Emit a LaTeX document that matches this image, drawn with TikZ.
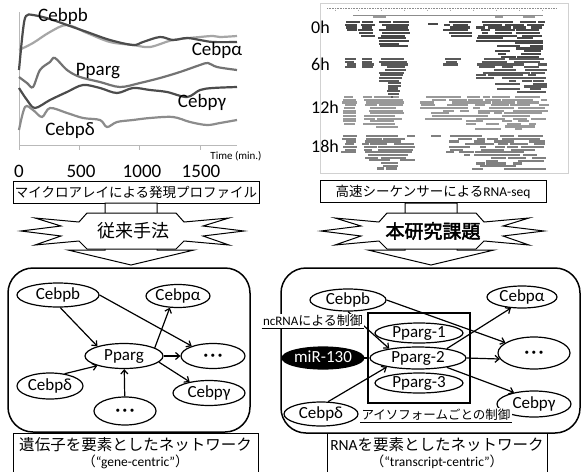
\documentclass[tikz,border=0pt]{standalone}
\usepackage{fontspec}
\setmainfont{Carlito}
\newfontfamily\jp{Noto Sans CJK JP}
\newfontfamily\jpbold[FakeBold=2.5]{Noto Sans CJK JP}
\usetikzlibrary{arrows.meta,shapes.geometric}
\newcommand\readrows[6]{%
  \foreach \r in {1,...,#4}{%
    \foreach \k in {1,...,#6}{%
      \pgfmathsetmacro\wd{6+9*rnd}%
      \pgfmathsetmacro\xa{#1+(#2-#1-\wd)*rnd}%
      \fill[#5] (\xa,#3+\r*2.7-2.7) rectangle ++(\wd,2.1);
    }}}
\newcommand\dotsthree{\textbf{·\hspace{2.5pt}·\hspace{2.5pt}·}}
\begin{document}
\begin{tikzpicture}[x=1pt,y=-1pt,
  ell/.style={draw,ellipse,line width=1.2pt,fill=white,inner sep=0pt,
    font=\fontsize{17}{18}\selectfont,text height=11pt,text depth=3pt},
  arr/.style={line width=1.2pt,-{Straight Barb[length=4pt,width=7pt]}},
  curve/.style={line width=2.2pt,smooth,tension=0.55},
  chartlbl/.style={font=\fontsize{19}{21}\selectfont,inner sep=0pt},
  tick/.style={font=\fontsize{19}{21}\selectfont,inner sep=0pt},
  hour/.style={font=\fontsize{18}{20}\selectfont,inner sep=0pt,anchor=west},
  capbox/.style={draw,line width=1pt,minimum height=22pt,inner sep=0pt,
    font=\fontsize{13.5}{15}\selectfont},
  netbox/.style={line width=1.5pt,rounded corners=25pt},
  burst/.style={line width=1pt,fill=white},
  bigtxt/.style={font=\fontsize{15.5}{17}\selectfont,inner sep=0pt},
  smalltxt/.style={font=\fontsize{13.5}{15}\selectfont,inner sep=0pt},
  ulabel/.style={fill=white,inner sep=1.2pt,font=\fontsize{13}{15}\selectfont}]
\useasboundingbox (0,0) rectangle (583,471);
\fill[white] (0,0) rectangle (583,471);

% ---------------- chart ----------------
\draw[gray!55,line width=0.8pt] (19,12) -- (19,145) -- (237,145);
\foreach \tx in {19,79,139,200} \draw[gray!55,line width=0.8pt] (\tx,145) -- (\tx,150);
\node[tick] (t0) at (19,171) {0};
\node[tick] (t500) at (81,171) {500};
\node[tick] (t1000) at (142,171) {1000};
\node[tick] (t1500) at (201,171) {1500};
\node[font=\fontsize{11}{12}\selectfont,inner sep=0pt] (tlab) at (236,156) {Time (min.)};

\draw[curve,color=black!35] plot coordinates {(19,50) (33,43) (50,32) (67,25) (87,33) (110,42) (133,45) (150,47) (173,40) (200,37) (213,36) (220,37) (237,36)};
\draw[curve,color=black!70] plot coordinates {(19,70) (23,30) (26,16) (33,15) (50,19) (67,25) (87,32) (110,40) (133,45) (143,42) (160,37) (173,40) (187,38) (200,40) (213,42) (237,42)};
\draw[curve,color=black!55] plot coordinates {(19,77) (27,83) (33,87) (40,70) (50,62) (55,58) (67,70) (80,77) (100,82) (120,87) (140,83) (160,78) (180,72) (200,65) (208,63) (217,67) (237,70)};
\draw[curve,color=black!70] plot coordinates {(19,88) (27,100) (35,108) (50,100) (67,92) (83,85) (100,88) (117,93) (133,88) (150,90) (167,92) (187,97) (200,90) (213,88) (237,87)};
\draw[curve,color=black!45] plot coordinates {(19,130) (25,107) (33,110) (42,117) (50,108) (67,113) (83,118) (100,120) (107,127) (117,122) (133,120) (150,118) (173,117) (190,122) (207,125) (220,123) (237,120)};

\node[chartlbl] (cl1) at (63,16) {Cebpb};
\node[chartlbl] (cl2) at (217,50) {Cebpα};
\node[chartlbl] (cl3) at (98,71) {Pparg};
\node[chartlbl] (cl4) at (202,102) {Cebpγ};
\node[chartlbl] (cl5) at (70,130) {Cebpδ};

% ---------------- RNA-seq picture ----------------
\draw[black!18,line width=0.8pt] (320,3) rectangle (568,173);
\draw[black!45,line width=0.6pt,densely dotted] (327,8) -- (557,8);
\foreach \tx in {335,358,381,404,427,450,473,496,519,542} \draw[black!35,line width=0.4pt] (\tx,9.5) -- (\tx,11);
\draw[black!45,line width=0.6pt] (353,15) -- (543,15);
\fill[black!40] (373,16) rectangle (386,17.5);
\fill[black!40] (495,16) rectangle (503,17.5);
\fill[black!40] (523,16) rectangle (535,17.5);
\pgfmathsetseed{7}
% 0h
\readrows{347}{357}{21}{4}{black!72}{2}
\readrows{362}{372}{21}{6}{black!72}{2}
\readrows{378}{410}{21}{10}{black!72}{5}
\readrows{428}{437}{23}{1}{black!72}{1}
\readrows{443}{473}{21}{6}{black!72}{4}
\readrows{475}{545}{21}{8}{black!72}{9}
\readrows{492}{545}{42}{6}{black!72}{5}
% 6h
\readrows{345}{357}{58}{4}{black!65}{2}
\readrows{362}{373}{58}{4}{black!65}{2}
\readrows{378}{408}{58}{9}{black!65}{5}
\readrows{388}{400}{82}{6}{black!65}{2}
\readrows{443}{463}{58}{3}{black!65}{3}
\readrows{475}{547}{58}{8}{black!65}{9}
\readrows{495}{547}{80}{5}{black!65}{5}
% 12h
\readrows{343}{356}{96}{11}{black!40}{2}
\readrows{363}{405}{96}{12}{black!40}{6}
\readrows{420}{550}{96}{9}{black!40}{14}
\readrows{460}{545}{120}{4}{black!40}{5}
% 18h
\readrows{345}{356}{135}{7}{black!50}{2}
\readrows{362}{415}{135}{10}{black!50}{8}
\readrows{370}{400}{162}{3}{black!50}{3}
\readrows{428}{442}{135}{1}{black!50}{1}
\readrows{443}{547}{135}{8}{black!50}{11}
\readrows{470}{547}{157}{5}{black!50}{6}
\node[hour] (h0) at (311,27) {0h};
\node[hour] (h6) at (311,64) {6h};
\node[hour] (h12) at (311,107) {12h};
\node[hour] (h18) at (311,146) {18h};

% ---------------- caption boxes ----------------
\node[capbox,minimum width=246pt] (capL) at (136,192) {\jp マイクロアレイによる発現プロファイル};
\node[capbox,minimum width=226pt] (capR) at (433,191.5) {{\jp 高速シーケンサーによる}RNA-seq};

% ---------------- burst arrows ----------------
\foreach \sx in {0,300}{
\begin{scope}[shift={(\sx,0)}]
\draw[burst] (105,203) -- (157,203) -- (157,250) -- (194,250) -- (131,265) -- (68,250) -- (105,250) -- cycle;
\draw[burst] (79,222) -- (87,213) -- (176,213) -- (184,222) -- (229,218) -- (203,226) -- (244,231) -- (203,236) -- (229,245) -- (184,241) -- (176,249) -- (87,249) -- (79,241) -- (35,245) -- (61,236) -- (21,231) -- (61,226) -- (35,218) -- cycle;
\end{scope}}
\node[inner sep=0pt,font=\fontsize{18}{20}\selectfont] (bL) at (133,231) {\jp 従来手法};
\node[inner sep=0pt,font=\fontsize{19}{21}\selectfont] (bR) at (433,231) {\jpbold 本研究課題};

% ---------------- left network ----------------
\draw[netbox] (8,268) rectangle (250,432);
\node[ell,minimum width=82pt,minimum height=24pt] (Lcebpb) at (58,295) {Cebpb};
\node[ell,minimum width=64pt,minimum height=23pt] (Lcebpa) at (178,296) {Cebpα};
\node[ell,minimum width=78pt,minimum height=25pt] (Lpparg) at (124,356) {Pparg};
\node[ell,minimum width=64pt,minimum height=25pt] (Ldots) at (213,356) {\dotsthree};
\node[ell,minimum width=66pt,minimum height=26pt] (Lcebpd) at (50,386) {Cebpδ};
\node[ell,minimum width=72pt,minimum height=25pt] (Lcebpg) at (209,393) {Cebpγ};
\node[ell,minimum width=62pt,minimum height=28pt] (Ldots2) at (125,411) {\dotsthree};
\draw[arr] (Lcebpb.-80) -- (Lpparg.160);
\draw[arr] (Lcebpb.east) -- (Ldots.155);
\draw[arr] (Lpparg.15) -- (Lcebpa.235);
\draw[arr] (Lpparg) -- (Ldots);
\draw[arr] (Lpparg.-10) -- (Lcebpg.150);
\draw[arr] (Lcebpd.40) -- (Lpparg.200);
\draw[arr] (Ldots2) -- (Lpparg);

% ---------------- right network ----------------
\draw[netbox] (281,268) rectangle (580,433);
\node[draw,line width=1.2pt,minimum width=102pt,minimum height=90pt,inner sep=0pt] (Rbox) at (419,358) {};
\node[ell,minimum width=76pt,minimum height=22pt] (Rcebpb) at (348,300) {Cebpb};
\node[ell,minimum width=70pt,minimum height=22pt] (Rcebpa) at (522,297) {Cebpα};
\node[ell,minimum width=72pt,minimum height=32pt] (Rdots) at (534,353) {\dotsthree};
\node[ell,minimum width=74pt,minimum height=26pt] (Rcebpg) at (534,404) {Cebpγ};
\node[ell,minimum width=74pt,minimum height=24pt] (Rcebpd) at (321,414) {Cebpδ};
\node[ell,fill=black,text=white,minimum width=70pt,minimum height=22pt] (Rmir) at (323,358) {miR-130};
\node[ell,minimum width=88pt,minimum height=20pt] (Rp1) at (419,333) {Pparg-1};
\node[ell,minimum width=96pt,minimum height=22pt] (Rp2) at (418,358) {Pparg-2};
\node[ell,minimum width=88pt,minimum height=20pt] (Rp3) at (419,383) {Pparg-3};
\draw[arr] (Rcebpb.south) -- (Rp2.162);
\draw[arr] (Rcebpb.east) -- (Rdots.160);
\draw[line width=1.2pt,-{Bar[width=9pt]}] (Rmir) -- (Rp2);
\draw[arr] (Rcebpd.60) -- (Rp2.196);
\draw[arr] (Rp2.18) -- (Rcebpa.225);
\draw[arr] (Rp2.east) -- (Rdots.190);
\draw[arr] (Rp2.-18) -- (Rcebpg.150);
\node[ulabel] (ncl) at (313,321) {ncRNA{\jp による制御}};
\draw[line width=0.7pt] (ncl.south west) -- (ncl.south east);
\node[ulabel,font=\fontsize{12.5}{14}\selectfont] (isol) at (436,415) {\jp アイソフォームごとの制御};
\draw[line width=0.7pt] (isol.south west) -- (isol.south east);

% ---------------- bottom captions ----------------
\fill[white] (13,433) rectangle (258,472);
\draw[line width=1pt] (13,472) -- (13,433) -- (258,433) -- (258,472);
\fill[white] (327,433) rectangle (547,472);
\draw[line width=1pt] (327,472) -- (327,433) -- (547,433) -- (547,472);
\node[bigtxt] (gL1) at (135.5,445) {\jp 遺伝子を要素としたネットワーク};
\node[smalltxt] (gL2) at (135.5,461.5) {{\jp （}“gene-centric”{\jp ）}};
\node[bigtxt] (gR1) at (437,445) {RNA{\jp を要素としたネットワーク}};
\node[smalltxt] (gR2) at (437,461.5) {{\jp （}“transcript-centric”{\jp ）}};
\end{tikzpicture}
\end{document}
